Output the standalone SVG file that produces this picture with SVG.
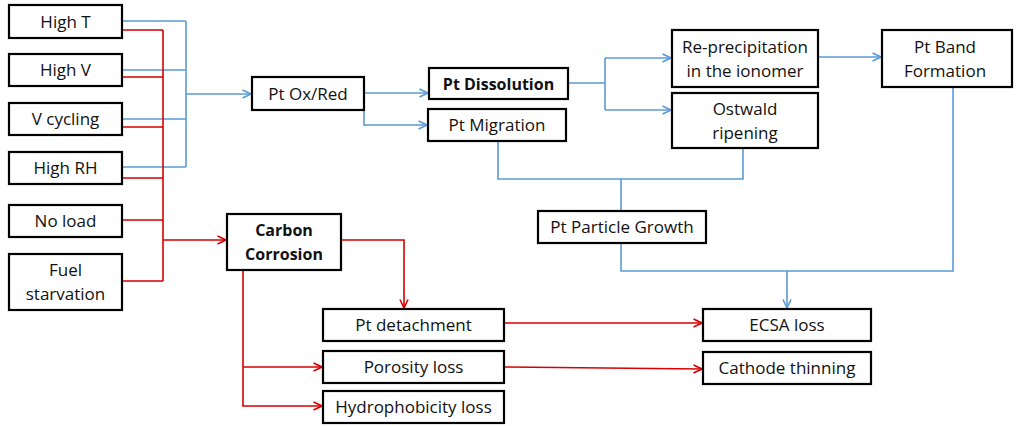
<svg xmlns="http://www.w3.org/2000/svg" width="1016" height="426" viewBox="0 0 1016 426">
  <style>
    .box { fill: #ffffff; stroke: #000000; stroke-width: 2.2; }
    .lbl { font-family: "Open Sans", "Liberation Sans", sans-serif; font-size: 17px; fill: #111111; text-anchor: middle; }
    .bold { font-weight: bold; font-size: 16px; }
    .blue { fill: none; stroke: #5B9BD5; stroke-width: 1.6; }
    .red { fill: none; stroke: #D80000; stroke-width: 1.6; }
  </style>
  <defs>
    <marker id="arrowBlue" viewBox="0 0 10 10" refX="9.5" refY="5" markerWidth="10" markerHeight="10" markerUnits="userSpaceOnUse" orient="auto">
      <path d="M1,1 L9.5,5 L1,9" fill="none" stroke="#5B9BD5" stroke-width="1.6"/>
    </marker>
    <marker id="arrowRed" viewBox="0 0 10 10" refX="9.5" refY="5" markerWidth="10" markerHeight="10" markerUnits="userSpaceOnUse" orient="auto">
      <path d="M1,1 L9.5,5 L1,9" fill="none" stroke="#D80000" stroke-width="1.6"/>
    </marker>
  </defs>

  <rect width="1016" height="426" fill="#ffffff"/>

  <g id="connectors">
    <!-- stress factors to Pt oxidation/reduction -->
    <path class="blue" d="M122,21 H186 M122,70 H186 M122,119 H186 M122,167 H186 M186,21 V167"/>
    <path class="blue" d="M186,94 H251" marker-end="url(#arrowBlue)"/>
    <path class="blue" d="M364,93 H428" marker-end="url(#arrowBlue)"/>
    <path class="blue" d="M364,110 V125 H427" marker-end="url(#arrowBlue)"/>
    <path class="blue" d="M568,83 H605 M605,58 V110"/>
    <path class="blue" d="M605,58 H671" marker-end="url(#arrowBlue)"/>
    <path class="blue" d="M605,110 H671" marker-end="url(#arrowBlue)"/>
    <path class="blue" d="M818,57 H881" marker-end="url(#arrowBlue)"/>
    <path class="blue" d="M498,141 V179 H743 V148 M621,179 V211"/>
    <path class="blue" d="M621,243 V271 H953 V87"/>
    <path class="blue" d="M787,271 V308" marker-end="url(#arrowBlue)"/>

    <!-- stress factors to carbon corrosion -->
    <path class="red" d="M122,30 H163 M122,77 H163 M122,127 H163 M122,178 H163 M122,220 H163 M122,281 H163 M163,30 V281"/>
    <path class="red" d="M163,240 H226" marker-end="url(#arrowRed)"/>
    <path class="red" d="M341,240 H404 V308" marker-end="url(#arrowRed)"/>
    <path class="red" d="M243,270 V406 H322" marker-end="url(#arrowRed)"/>
    <path class="red" d="M243,367 H322" marker-end="url(#arrowRed)"/>
    <path class="red" d="M504,323 H702" marker-end="url(#arrowRed)"/>
    <path class="red" d="M504,367 L702,369" marker-end="url(#arrowRed)"/>
  </g>

  <g id="high-t"><rect class="box" x="9" y="5" width="113" height="33"/><text class="lbl" x="65.5" y="27.5">High T</text></g>
  <g id="high-v"><rect class="box" x="9" y="54" width="113" height="32"/><text class="lbl" x="65.5" y="76">High V</text></g>
  <g id="v-cycling"><rect class="box" x="9" y="103" width="113" height="32"/><text class="lbl" x="65.5" y="125">V cycling</text></g>
  <g id="high-rh"><rect class="box" x="9" y="152" width="113" height="32"/><text class="lbl" x="65.5" y="174">High RH</text></g>
  <g id="no-load"><rect class="box" x="9" y="205" width="113" height="32"/><text class="lbl" x="65.5" y="227">No load</text></g>
  <g id="fuel-starvation"><rect class="box" x="9" y="254" width="113" height="56"/><text class="lbl" x="65.5" y="276">Fuel</text><text class="lbl" x="65.5" y="300">starvation</text></g>

  <g id="pt-oxred"><rect class="box" x="252" y="77" width="112" height="33"/><text class="lbl" x="308" y="99.5">Pt Ox/Red</text></g>
  <g id="pt-dissolution"><rect class="box" x="429" y="68" width="139" height="31"/><text class="lbl bold" x="498.5" y="89.5">Pt Dissolution</text></g>
  <g id="pt-migration"><rect class="box" x="428" y="109" width="138" height="32"/><text class="lbl" x="497" y="131">Pt Migration</text></g>
  <g id="re-precipitation"><rect class="box" x="672" y="30" width="146" height="57"/><text class="lbl" x="745" y="53">Re-precipitation</text><text class="lbl" x="745" y="77">in the ionomer</text></g>
  <g id="ostwald-ripening"><rect class="box" x="672" y="93" width="146" height="55"/><text class="lbl" x="745" y="115">Ostwald</text><text class="lbl" x="745" y="139">ripening</text></g>
  <g id="pt-band"><rect class="box" x="882" y="30" width="130" height="57"/><text class="lbl" x="945" y="53">Pt Band</text><text class="lbl" x="945" y="77">Formation</text></g>
  <g id="pt-particle-growth"><rect class="box" x="538" y="211" width="168" height="32"/><text class="lbl" x="622" y="233">Pt Particle Growth</text></g>

  <g id="carbon-corrosion"><rect class="box" x="227" y="214" width="114" height="56"/><text class="lbl bold" x="284" y="236">Carbon</text><text class="lbl bold" x="284" y="260">Corrosion</text></g>
  <g id="pt-detachment"><rect class="box" x="323" y="309" width="181" height="32"/><text class="lbl" x="413.5" y="331">Pt detachment</text></g>
  <g id="porosity-loss"><rect class="box" x="323" y="351" width="181" height="32"/><text class="lbl" x="413.5" y="373">Porosity loss</text></g>
  <g id="hydrophobicity-loss"><rect class="box" x="323" y="391" width="181" height="32"/><text class="lbl" x="413.5" y="413">Hydrophobicity loss</text></g>
  <g id="ecsa-loss"><rect class="box" x="703" y="309" width="168" height="32"/><text class="lbl" x="787" y="331">ECSA loss</text></g>
  <g id="cathode-thinning"><rect class="box" x="703" y="352" width="168" height="32"/><text class="lbl" x="787" y="374">Cathode thinning</text></g>
</svg>
